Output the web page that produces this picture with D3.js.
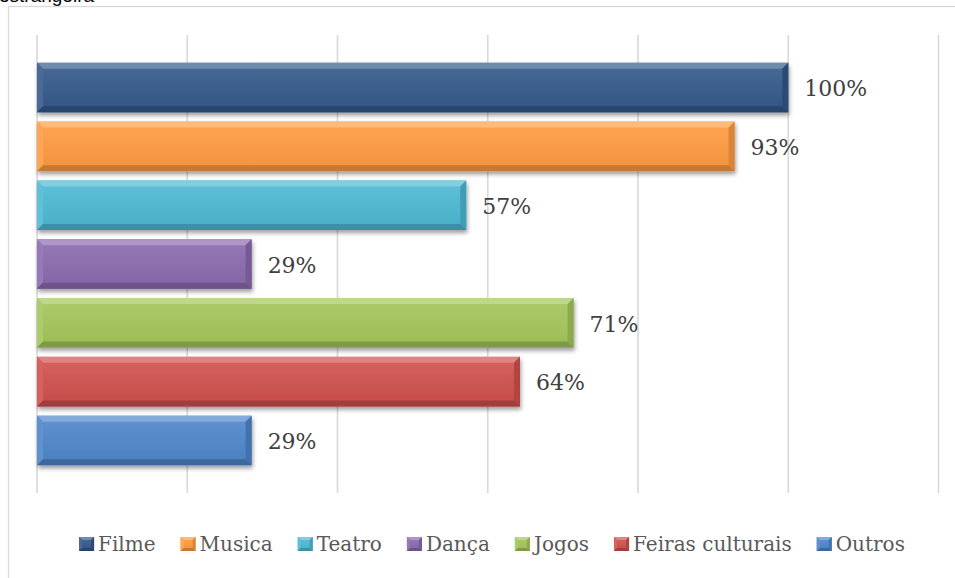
<!DOCTYPE html>
<html><head><meta charset="utf-8">
<script src="https://cdn.jsdelivr.net/npm/d3@7"></script>
<style>html,body{margin:0;padding:0;background:#fff;overflow:hidden}</style>
</head><body>
<svg id="chart" width="955" height="578"></svg>
<script>
const categories = ["Filme","Musica","Teatro","Dança","Jogos","Feiras culturais","Outros"];
const values = [1.0, 0.9286, 0.5714, 0.2857, 0.7143, 0.6429, 0.2857];
const colors = ["#34598A","#FF9B40","#4CB9D3","#8A6AAE","#A3C65A","#D0504D","#4E86CB"];
const xTicks = [0, 0.2, 0.4, 0.6, 0.8, 1.0, 1.2];

const SERIF = "'DejaVu Serif', 'Liberation Serif', serif";
const svg = d3.select("#chart");
const defs = svg.append("defs");
const f = defs.append("filter").attr("id","sh").attr("x","-5%").attr("y","-20%").attr("width","115%").attr("height","160%");
f.append("feDropShadow").attr("dx",1).attr("dy",3).attr("stdDeviation",2.2).attr("flood-color","#000").attr("flood-opacity",0.38);

// cut-off text above chart frame
svg.append("text").attr("x",-1).attr("y",1.5).attr("font-family","'Liberation Sans', Arial, sans-serif")
  .attr("font-size",19).attr("fill","#000").text("estrangeira");

// chart frame
svg.append("rect").attr("x",8.5).attr("y",6.5).attr("width",1000).attr("height",700)
  .attr("fill","#fff").attr("stroke","#D9D9D9").attr("stroke-width",1.3);

const x = d3.scaleLinear().domain([0,1.2]).range([37,938.5]);
const y = d3.scaleBand().domain(categories).range([35,493]).paddingInner(0.158).paddingOuter(0.473);

// gridlines
svg.append("g").selectAll("line").data(xTicks).join("line")
  .attr("x1",d=>x(d)).attr("x2",d=>x(d)).attr("y1",35).attr("y2",493)
  .attr("stroke","#D9D9D9").attr("stroke-width",1.6);

function bevel(g, x0, y0, w, h, col, b, gid){
  const x1 = x0 + w, y1 = y0 + h;
  const c = d3.color(col);
  const grad = defs.append("linearGradient").attr("id",gid).attr("x1",0).attr("y1",0).attr("x2",0).attr("y2",1);
  grad.append("stop").attr("offset","0%").attr("stop-color",d3.interpolateRgb(col,"#fff")(0.1));
  grad.append("stop").attr("offset","100%").attr("stop-color",c.darker(0.15));
  g.append("rect").attr("x",x0).attr("y",y0).attr("width",w).attr("height",h).attr("fill",`url(#${gid})`);
  const poly = (pts, fill) => g.append("polygon").attr("points",pts.map(p=>p.join(",")).join(" ")).attr("fill",fill);
  poly([[x0,y0],[x1,y0],[x1-b,y0+b],[x0+b,y0+b]], d3.interpolateRgb(col,"#fff")(0.3));
  poly([[x0,y0],[x0+b,y0+b],[x0+b,y1-b],[x0,y1]], d3.interpolateRgb(col,"#fff")(0.1));
  poly([[x1,y0],[x1-b,y0+b],[x1-b,y1-b],[x1,y1]], c.darker(0.45));
  poly([[x0,y1],[x1,y1],[x1-b,y1-b],[x0+b,y1-b]], c.darker(0.7));
}

const bars = svg.append("g");
categories.forEach((cat,i)=>{
  const g = bars.append("g").attr("filter","url(#sh)");
  bevel(g, x(0), y(cat), x(values[i]) - x(0), y.bandwidth(), colors[i], 6, "gb"+i);
});

// value labels
svg.append("g").selectAll("text").data(categories).join("text")
  .attr("x",(d,i)=>x(values[i]) + 16)
  .attr("y",d=>y(d)+y.bandwidth()/2)
  .attr("dy","0.4em")
  .attr("font-family",SERIF).attr("font-size",22).attr("fill","#404040")
  .text((d,i)=>Math.round(values[i]*100)+"%");

// legend
const leg = svg.append("g");
const items = [];
categories.forEach((cat,i)=>{
  const g = leg.append("g");
  const t = g.append("text").attr("x",19).attr("y",551)
    .attr("font-family",SERIF).attr("font-size",20).attr("fill","#595959").text(cat);
  const mg = g.append("g");
  bevel(mg, 0, 537, 15, 14, colors[i], 3, "gl"+i);
  items.push({g, w: 19 + t.node().getComputedTextLength()});
});
const gap = 25;
const total = d3.sum(items, d=>d.w) + gap*(items.length-1);
let cx = 492 - total/2;
items.forEach(it=>{ it.g.attr("transform",`translate(${cx},0)`); cx += it.w + gap; });
</script>
</body></html>
